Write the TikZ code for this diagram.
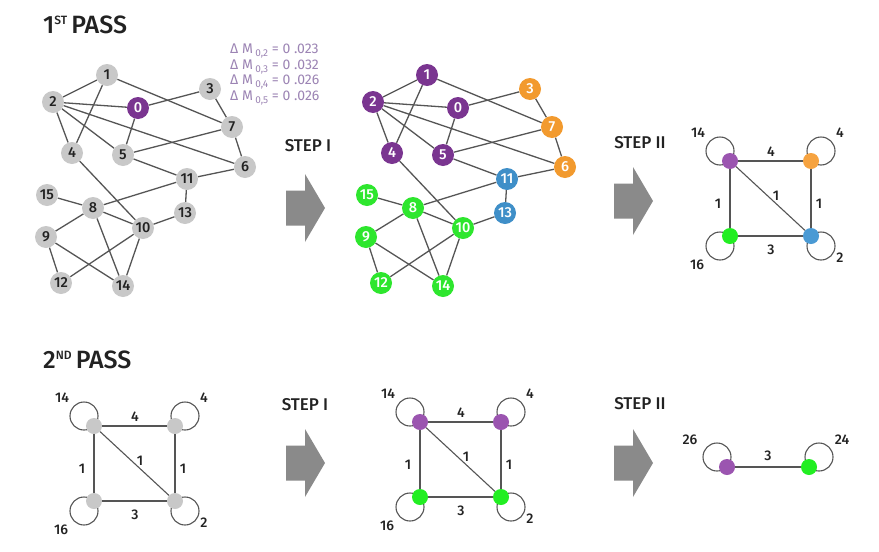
\documentclass[tikz,border=0pt]{standalone}
\usepackage{fontspec}
\setmainfont{Fira Sans}
\newfontfamily\medfont{Fira Sans Medium}
\usetikzlibrary{calc}
\pgfdeclarelayer{bg}
\pgfsetlayers{bg,main}
\definecolor{gnode}{HTML}{C8C8C8}
\definecolor{pur}{HTML}{7A3590}
\definecolor{org}{HTML}{F29A2E}
\definecolor{blu}{HTML}{3F8FC8}
\definecolor{grn}{HTML}{2EE62E}
\definecolor{lpur}{HTML}{9B55B0}
\definecolor{lorg}{HTML}{F6A340}
\definecolor{lblu}{HTML}{4A9AD4}
\definecolor{lgrn}{HTML}{22EE22}
\definecolor{edgec}{HTML}{555555}
\definecolor{dmc}{HTML}{9C84B4}
\definecolor{arrc}{HTML}{8A8A8A}
\definecolor{txt}{HTML}{222222}
\tikzset{
  vtx/.style={circle, minimum size=22pt, inner sep=0pt, font=\medfont\fontsize{14.5}{14.5}\selectfont},
  gv/.style={vtx, fill=gnode, text=txt},
  cv/.style={vtx, fill=#1, text=white},
  sv/.style={circle, minimum size=16pt, inner sep=0pt, fill=#1},
  link/.style={draw=edgec, line width=1.3pt},
  link2/.style={draw=edgec, line width=1.1pt},
  lbl/.style={inner sep=0pt, text=txt, font=\medfont\fontsize{14}{14}\selectfont},
  steplbl/.style={inner sep=0pt, text=txt, font=\medfont\fontsize{17}{17}\selectfont},
  headlbl/.style={inner sep=0pt, text=txt, anchor=base west, font=\medfont\fontsize{25}{25}\selectfont},
  dmlbl/.style={inner sep=0pt, text=dmc, anchor=west, font=\fontsize{14}{14}\selectfont},
  blockarrow/.pic={\fill[arrc] (0,-17.5) -- (19,-17.5) -- (19,-34) -- (39,0) -- (19,34) -- (19,17.5) -- (0,17.5) -- cycle;}
}
\newcommand{\sbs}[1]{\raisebox{-0.35ex}{\fontsize{10}{10}\selectfont #1}}
\newcommand{\squaregraph}[7]{%
  \node[sv=#4] (#1a) at (#2,#3) {};
  \node[sv=#5] (#1b) at (#2+81,#3) {};
  \node[sv=#6] (#1c) at (#2,#3+75) {};
  \node[sv=#7] (#1d) at (#2+81,#3+75) {};
  \begin{pgfonlayer}{bg}
    \draw[link2] (#1a) -- (#1b);
    \draw[link2] (#1b) -- (#1d);
    \draw[link2] (#1d) -- (#1c);
    \draw[link2] (#1c) -- (#1a);
    \draw[link2] (#1a) -- (#1d);
    \draw[link2] ($(#1a)+(-10,-10)$) circle[radius=14pt];
    \draw[link2] ($(#1b)+(10,-10)$) circle[radius=14pt];
    \draw[link2] ($(#1c)+(-10,10)$) circle[radius=14pt];
    \draw[link2] ($(#1d)+(10,10)$) circle[radius=14pt];
  \end{pgfonlayer}
  \node[lbl] (#1w1) at (#2-32,#3-28) {14};
  \node[lbl] (#1w2) at (#2+81+29,#3-28) {4};
  \node[lbl] (#1w3) at (#2-33,#3+75+29) {16};
  \node[lbl] (#1w4) at (#2+81+29,#3+75+22) {2};
  \node[lbl] (#1e1) at (#2+41,#3-9) {4};
  \node[lbl] (#1e2) at (#2+46,#3+35) {1};
  \node[lbl] (#1e3) at (#2-12,#3+43) {1};
  \node[lbl] (#1e4) at (#2+81+8,#3+43) {1};
  \node[lbl] (#1e5) at (#2+41,#3+75+14) {3};
}
\begin{document}
\begin{tikzpicture}[x=1pt,y=-1pt]
\useasboundingbox (0,0) rectangle (879,552);
\begin{pgfonlayer}{bg}
\fill[white] (0,0) rectangle (879,552);
\end{pgfonlayer}

% headings
\node[headlbl] (h1) at (43,33) {1\raisebox{8.5pt}{\fontsize{12}{12}\selectfont ST}\,PASS};
\node[headlbl] (h2) at (43,368) {2\raisebox{8.5pt}{\fontsize{12}{12}\selectfont ND}\,PASS};

% Delta M text
\node[dmlbl] (dm1) at (230,51) {Δ M\,\sbs{0,2} = 0 .023};
\node[dmlbl] (dm2) at (230,67) {Δ M\,\sbs{0,3} = 0 .032};
\node[dmlbl] (dm3) at (230,82) {Δ M\,\sbs{0,4} = 0 .026};
\node[dmlbl] (dm4) at (230,98) {Δ M\,\sbs{0,5} = 0 .026};

% graph A (gray)
\foreach \n/\x/\y in {1/107/75, 2/53/102, 3/210/89, 4/72/153, 5/123/155, 6/245/167, 7/232/127, 8/93/208, 9/46/237, 10/143/228, 11/187/179, 12/61/283, 13/185/213, 14/123/286, 15/47/195}
  \node[gv] (a\n) at (\x,\y) {\n};
\node[cv=pur] (a0) at (138,108) {0};

% graph B (coloured)
\foreach \n/\x/\y/\c in {0/138/108/pur, 1/107/75/pur, 2/53/102/pur, 4/72/153/pur, 5/123/155/pur, 3/210/89/org, 7/232/127/org, 6/245/167/org, 11/187/179/blu, 13/185/213/blu, 8/93/208/grn, 9/46/237/grn, 10/143/228/grn, 12/61/283/grn, 14/123/286/grn, 15/47/195/grn}
  \node[cv=\c] (b\n) at (\x+320,\y) {\n};

\begin{pgfonlayer}{bg}
\foreach \u/\v in {1/2,1/4,1/7,2/0,2/4,2/5,2/6,0/3,0/5,3/7,7/5,7/6,6/11,5/11,11/8,11/13,13/10,4/10,15/8,8/10,8/9,8/14,9/12,9/14,12/10,10/14} {
  \draw[link] (a\u) -- (a\v);
  \draw[link] (b\u) -- (b\v);
}
\end{pgfonlayer}

% step labels and arrows
\node[steplbl] (st1) at (308,146) {STEP I};
\node[steplbl] (st2) at (640,143) {STEP II};
\node[steplbl] (st3) at (305,405) {STEP I};
\node[steplbl] (st4) at (640,404) {STEP II};
\pic at (286,208) {blockarrow};
\pic at (614,201) {blockarrow};
\pic at (286,463) {blockarrow};
\pic at (614,463) {blockarrow};

% square graphs
\squaregraph{p}{730}{161}{lpur}{lorg}{lgrn}{lblu}
\squaregraph{q}{94}{426}{gnode}{gnode}{gnode}{gnode}
\squaregraph{r}{420}{422}{lpur}{lpur}{lgrn}{lgrn}

% final two-node graph
\node[sv=lpur] (s1) at (727,467) {};
\node[sv=lgrn] (s2) at (809,467) {};
\begin{pgfonlayer}{bg}
  \draw[link2] (s1) -- (s2);
  \draw[link2] ($(s1)+(-10,-10)$) circle[radius=14pt];
  \draw[link2] ($(s2)+(10,-10)$) circle[radius=14pt];
\end{pgfonlayer}
\node[lbl] (sw1) at (690,440) {26};
\node[lbl] (sw2) at (842,440) {24};
\node[lbl] (se1) at (768,456) {3};
\end{tikzpicture}
\end{document}
